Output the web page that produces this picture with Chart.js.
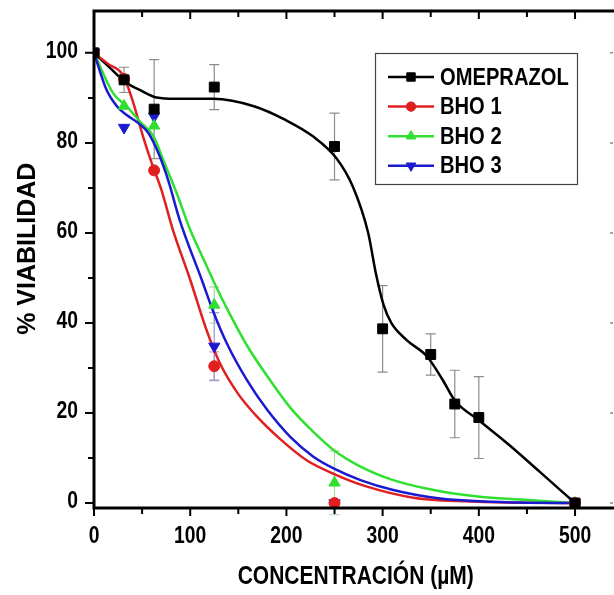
<!DOCTYPE html>
<html>
<head>
<meta charset="utf-8">
<script src="https://cdn.jsdelivr.net/npm/chart.js@4.4.0/dist/chart.umd.min.js"></script>
<style>
  html, body { margin: 0; padding: 0; background: #fff; overflow: hidden; }
  #wrap { width: 614px; height: 595px; position: relative; }
</style>
</head>
<body>
<div id="wrap"><canvas id="chart"></canvas></div>
<script>
// ---- measured points (mean +/- error) ----
const omeX   = [0, 31.25, 62.5, 125, 250, 300, 350, 375, 400, 500];
const omeY   = [100, 94, 87.5, 92.4, 79.2, 38.7, 33, 22, 19, 0];
const omeErr = [0, 2.8, 11, 5, 7.4, 9.6, 4.6, 7.5, 9.1, 0];

const bhoX    = [0, 31.25, 62.5, 125, 250, 500];
const bho1Y   = [100, 94.2, 73.9, 30.4, 0, 0];
const bho1Err = [0, 0, 0, 3.2, 0, 0];
const bho2Y   = [100, 88.2, 83.8, 44, 4.5, 0];
const bho2Err = [0, 0, 0, 4, 7.1, 0];
const bho3Y   = [100, 83.4, 85.9, 34.8, 0, 0];
const bho3Err = [0, 0, 0, 7.5, 0, 0];

// ---- fitted curves ----
const omeFitX  = [0, 15, 32, 50, 65, 85, 124, 167, 199, 228, 252, 269, 285, 293, 301, 309, 325, 346, 362, 375, 400, 431, 464, 500];
const omeFitY  = [100, 97, 93.6, 91.5, 90.1, 89.8, 89.8, 88.1, 85.1, 81.4, 76.6, 70.3, 60, 51, 44, 40, 36.2, 32.6, 27.5, 22.8, 18.4, 13, 6.8, 0];
const bho1FitX = [0, 15, 30.5, 41, 51, 60, 70, 82, 100, 117, 131, 150, 169, 193, 221, 249, 283, 332, 400, 500];
const bho1FitY = [100, 97.5, 94.9, 88.8, 81.4, 75.5, 69.6, 60.7, 49.6, 38.4, 31, 24.2, 19.3, 14.3, 9.5, 6.5, 3.7, 1.2, 0.3, 0];
const bho2FitX = [0, 20, 34, 48, 62, 72, 86, 100, 112, 126, 138, 159, 183, 204, 228, 249, 277, 311, 353, 401, 443, 500];
const bho2FitY = [100, 91, 88.1, 84.7, 81.4, 76.2, 68.8, 60.7, 55, 48.5, 43.3, 35, 27.3, 21.2, 15.8, 11.8, 8.1, 5.1, 2.9, 1.4, 0.8, 0];
const bho3FitX = [0, 13, 24, 34, 46, 56.5, 67, 77, 89, 112, 124, 138, 159, 180, 204, 228, 249, 277, 311, 360, 443, 500];
const bho3FitY = [100, 91.8, 88.1, 86.2, 84.4, 82.2, 77.7, 71.8, 62.9, 49.6, 42.5, 35.5, 27.3, 20.7, 14.7, 10.3, 7.7, 5.1, 2.9, 1, 0.1, 0];

const seriesNames = ['OMEPRAZOL', 'BHO 1', 'BHO 2', 'BHO 3'];
const xTicks = [0, 100, 200, 300, 400, 500];
const yTicks = [0, 20, 40, 60, 80, 100];
const xTitle = 'CONCENTRACIÓN (µM)';
const yTitle = '% VIABILIDAD';

const colors    = ['#000000', '#e02020', '#30e030', '#1a1ad0'];
const errColors = ['#8c8c8c', '#d8a0a8', '#a8d8a8', '#9a9ad0'];
const markers   = [
  {style: 'rect', radius: 7, rotation: 0},
  {style: 'circle', radius: 5.5, rotation: 0},
  {style: 'triangle', radius: 6.5, rotation: 0},
  {style: 'triangle', radius: 6.5, rotation: 180}
];

function pts(xs, ys) { return xs.map((x, i) => ({x: x, y: ys[i]})); }

const pointSets = [pts(omeX, omeY), pts(bhoX, bho1Y), pts(bhoX, bho2Y), pts(bhoX, bho3Y)];
const errSets   = [omeErr, bho1Err, bho2Err, bho3Err];
const fitSets   = [pts(omeFitX, omeFitY), pts(bho1FitX, bho1FitY), pts(bho2FitX, bho2FitY), pts(bho3FitX, bho3FitY)];

const datasets = [];
fitSets.forEach((d, i) => {
  datasets.push({
    label: seriesNames[i] + ' fit', data: d, showLine: true,
    borderColor: colors[i], borderWidth: 2.5, pointRadius: 0,
    cubicInterpolationMode: 'monotone', fill: false, order: 2 + (3 - i)
  });
});
pointSets.forEach((d, i) => {
  datasets.push({
    label: seriesNames[i], data: d, showLine: false, errors: errSets[i],
    errColor: errColors[i],
    pointStyle: markers[i].style, pointRadius: markers[i].radius, pointRotation: markers[i].rotation,
    backgroundColor: colors[i], borderColor: colors[i], borderWidth: 1, order: 0
  });
});

const boldFont = '"Liberation Sans", Arial, sans-serif';

// narrow bold text (the original uses a condensed face)
function narrowText(ctx, txt, x, y, size, align, squeeze, rot) {
  ctx.save();
  ctx.translate(x, y);
  if (rot) ctx.rotate(rot);
  ctx.scale(squeeze, 1);
  ctx.fillStyle = '#000';
  ctx.font = 'bold ' + size + 'px ' + boldFont;
  ctx.textAlign = align;
  ctx.textBaseline = 'middle';
  ctx.fillText(txt, 0, 0);
  ctx.restore();
}

// error bars under the markers
const errorBars = {
  id: 'errorBars',
  beforeDatasetsDraw(chart) {
    const ctx = chart.ctx, xs = chart.scales.x, ys = chart.scales.y;
    chart.data.datasets.forEach(ds => {
      if (!ds.errors) return;
      ctx.save();
      ctx.strokeStyle = ds.errColor;
      ctx.lineWidth = 1.2;
      ds.data.forEach((p, i) => {
        const e = ds.errors[i];
        if (!e) return;
        const px = xs.getPixelForValue(p.x);
        const top = ys.getPixelForValue(p.y + e), bot = ys.getPixelForValue(p.y - e);
        ctx.beginPath();
        ctx.moveTo(px, top); ctx.lineTo(px, bot);
        ctx.moveTo(px - 5, top); ctx.lineTo(px + 5, top);
        ctx.moveTo(px - 5, bot); ctx.lineTo(px + 5, bot);
        ctx.stroke();
      });
      ctx.restore();
    });
  }
};

// frame, tick marks, tick labels and axis titles, origin style
const frame = {
  id: 'frame',
  afterDraw(chart) {
    const ctx = chart.ctx, a = chart.chartArea, xs = chart.scales.x, ys = chart.scales.y;
    ctx.save();
    ctx.strokeStyle = '#000';
    ctx.lineWidth = 2;
    ctx.beginPath();
    for (let v = 0; v <= 500; v += 50) {
      const px = xs.getPixelForValue(v);
      const len = v % 100 === 0 ? 8 : 6;
      ctx.moveTo(px, a.bottom); ctx.lineTo(px, a.bottom + len);
      ctx.moveTo(px, a.top); ctx.lineTo(px, a.top + len);
    }
    for (let v = 0; v <= 100; v += 10) {
      const py = ys.getPixelForValue(v);
      const len = v % 20 === 0 ? 9 : 6;
      ctx.moveTo(a.left, py); ctx.lineTo(a.left - len, py);
    }
    ctx.stroke();
    ctx.lineWidth = 3;
    ctx.beginPath();
    ctx.moveTo(a.right, a.top); ctx.lineTo(a.left, a.top);
    ctx.lineTo(a.left, a.bottom); ctx.lineTo(a.right, a.bottom);
    ctx.stroke();
    // tick stubs of the neighbouring panel at the right edge
    ctx.strokeStyle = '#888';
    ctx.lineWidth = 1.5;
    ctx.beginPath();
    for (let v = 0; v <= 100; v += 20) {
      const py = ys.getPixelForValue(v);
      ctx.moveTo(a.right - 4, py); ctx.lineTo(a.right - 1, py);
    }
    ctx.stroke();
    ctx.restore();

    xTicks.forEach(v => narrowText(ctx, String(v), xs.getPixelForValue(v), a.bottom + 29, 23, 'center', 0.84));
    yTicks.forEach(v => narrowText(ctx, String(v), a.left - 16, ys.getPixelForValue(v) - 1.5, 23, 'right', 0.84));

    narrowText(ctx, xTitle, xs.getPixelForValue(272), 577, 25, 'center', 0.84);
    narrowText(ctx, yTitle, 28, ys.getPixelForValue(56.5), 25, 'center', 1, -Math.PI / 2);
  }
};

// legend box
const legendBox = {
  id: 'legendBox',
  afterDraw(chart) {
    const ctx = chart.ctx;
    ctx.save();
    ctx.fillStyle = '#fff';
    ctx.fillRect(375, 53, 202, 131);
    ctx.strokeStyle = '#444';
    ctx.lineWidth = 1.2;
    ctx.strokeRect(375.5, 53.5, 202, 131);
    seriesNames.forEach((name, i) => {
      const y = 77 + i * 29.6;
      ctx.strokeStyle = colors[i];
      ctx.lineWidth = 2.5;
      ctx.beginPath();
      ctx.moveTo(388, y); ctx.lineTo(434, y);
      ctx.stroke();
      ctx.fillStyle = colors[i];
      ctx.lineWidth = 1;
      Chart.helpers.drawPoint(ctx, {
        pointStyle: markers[i].style, rotation: markers[i].rotation,
        radius: markers[i].radius * 0.85, borderWidth: 1
      }, 411, y);
      narrowText(ctx, name, 440, y + 1, 24, 'left', 0.84);
    });
    ctx.restore();
  }
};

new Chart(document.getElementById('chart'), {
  type: 'scatter',
  data: {datasets: datasets},
  options: {
    responsive: true,
    maintainAspectRatio: false,
    animation: false,
    layout: {autoPadding: false, padding: {top: 11, right: 0, bottom: 0, left: 0}},
    plugins: {legend: {display: false}, tooltip: {enabled: false}},
    scales: {
      x: {
        type: 'linear', min: 0, max: 540.5,
        grid: {display: false}, border: {display: false},
        afterBuildTicks: s => { s.ticks = xTicks.map(v => ({value: v})); },
        afterFit: s => { s.height = 87; s.paddingLeft = 0; s.paddingRight = 0; },
        ticks: {display: false},
        title: {display: false}
      },
      y: {
        type: 'linear', min: -1.1, max: 109.3,
        grid: {display: false}, border: {display: false},
        afterBuildTicks: s => { s.ticks = yTicks.map(v => ({value: v})); },
        afterFit: s => { s.width = 94; s.paddingTop = 0; s.paddingBottom = 0; },
        ticks: {display: false},
        title: {display: false}
      }
    }
  },
  plugins: [errorBars, frame, legendBox]
});
</script>
</body>
</html>
